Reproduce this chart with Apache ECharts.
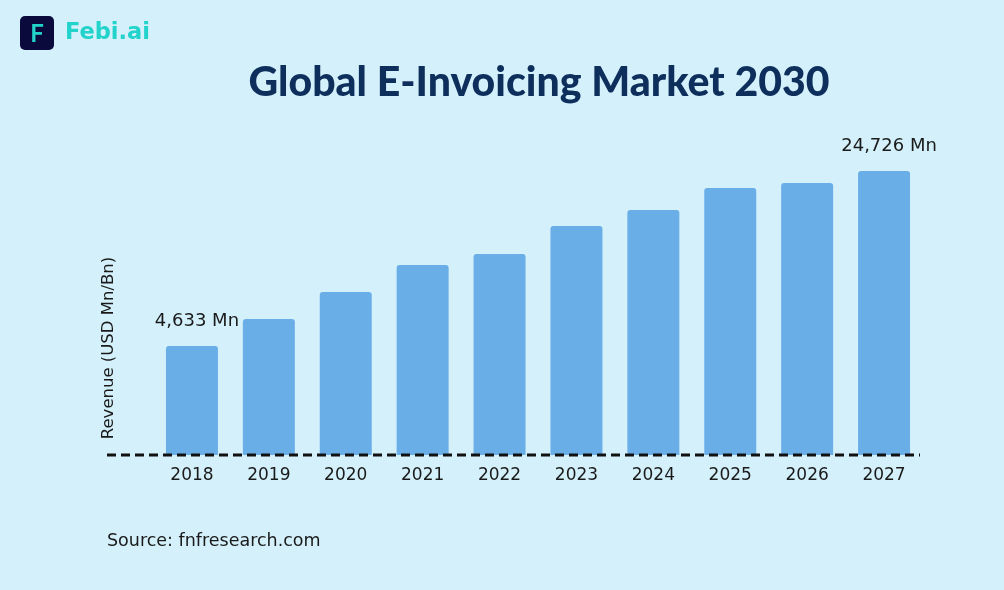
<!DOCTYPE html>
<html><head><meta charset="utf-8">
<script src="https://cdn.jsdelivr.net/npm/echarts@6/dist/echarts.min.js"></script>
<style>html,body{margin:0;padding:0;background:#d4f1fb;}#c{width:1004px;height:590px;}</style>
</head><body><div id="c"></div>
<script>
const categories = ['2018','2019','2020','2021','2022','2023','2024','2025','2026','2027'];
const revenue = [4633, 6000, 7770, 10050, 11170, 14600, 17010, 21000, 22030, 24726];
const labelledBars = {0: '4,633 Mn', 9: '24,726 Mn'};
const titleText = 'Global E-Invoicing Market 2030';
const yName = 'Revenue (USD Mn/Bn)';
const sourceText = 'Source: fnfresearch.com';
const brandText = 'Febi.ai';

const chart = echarts.init(document.getElementById('c'), null, {renderer: 'canvas'});
const barColor = '#6aaee8';
const textFont = 'DejaVu Sans';
chart.setOption({
  backgroundColor: '#d4f1fb',
  animation: false,
  title: {
    text: titleText, left: 534, top: 57, textAlign: 'center',
    textStyle: {fontFamily: 'Lato', fontWeight: 900, fontSize: 41, color: '#0e2e5c'}
  },
  grid: {left: 153.5, right: 81.5, top: 171, bottom: 135},
  xAxis: {
    type: 'category', data: categories,
    axisLine: {show: false}, axisTick: {show: false},
    axisLabel: {margin: 12, fontSize: 17, color: '#1a1a1a', fontFamily: textFont}
  },
  yAxis: {
    type: 'log', min: 1633, max: 24726, logBase: 10,
    axisLine: {show: false}, axisTick: {show: false}, axisLabel: {show: false},
    splitLine: {show: false}
  },
  series: [{
    type: 'bar', barWidth: 52, clip: true,
    itemStyle: {color: barColor, borderRadius: [3, 3, 0, 0]},
    data: revenue.map((v, i) => labelledBars[i] ? {
      value: v,
      label: {show: true, position: 'top', distance: 16, offset: [5, 0],
        formatter: labelledBars[i], fontSize: 18, color: '#1a1a1a', fontFamily: textFont}
    } : v)
  }],
  graphic: [
    {type: 'line', shape: {x1: 107, y1: 455, x2: 920, y2: 455},
     style: {stroke: '#111', lineWidth: 3, lineDash: [9, 5]}, z: 10},
    {type: 'text', x: 109, y: 348, rotation: Math.PI / 2,
     style: {text: yName, fontSize: 16.5, fill: '#1a1a1a', fontFamily: textFont, align: 'center', verticalAlign: 'middle'}},
    {type: 'text', x: 107, y: 541,
     style: {text: sourceText, fontSize: 17.5, fill: '#1a1a1a', fontFamily: textFont, align: 'left', verticalAlign: 'middle'}},
    {type: 'rect', shape: {x: 20, y: 16, width: 34, height: 34, r: 5}, style: {fill: '#0a0a3c'}},
    {type: 'text', x: 37, y: 34,
     style: {text: 'F', fontSize: 24, fontWeight: 'bold', fill: '#22d3cc', fontFamily: 'Lato', align: 'center', verticalAlign: 'middle'}},
    {type: 'text', x: 65, y: 33,
     style: {text: brandText, fontSize: 22.5, fontWeight: 'bold', fill: '#22d3cc', fontFamily: textFont, align: 'left', verticalAlign: 'middle'}}
  ]
});
</script></body></html>
